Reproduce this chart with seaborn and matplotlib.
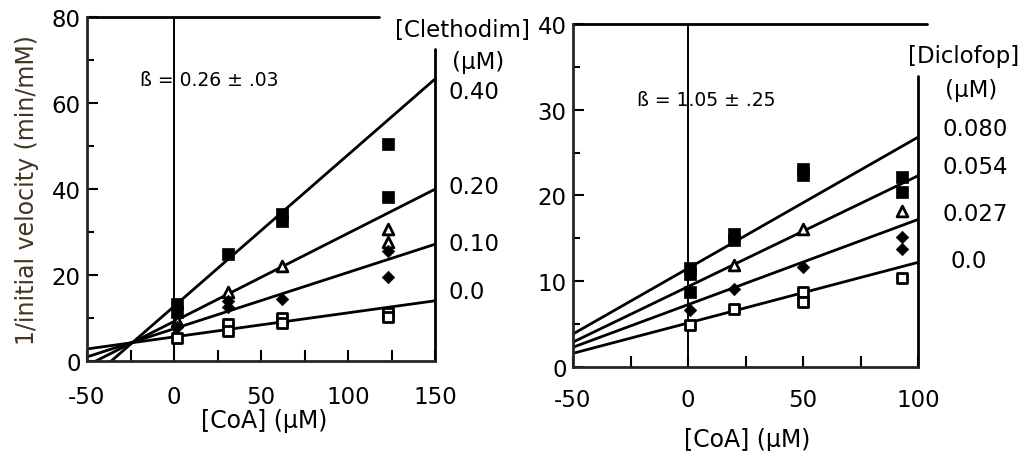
import matplotlib
matplotlib.use('Agg')
import matplotlib.pyplot as plt
import numpy as np
import seaborn as sns

sns.set_style('white')
plt.rcParams['font.family'] = ['DejaVu Sans']
plt.rcParams['axes.linewidth'] = 2
plt.rcParams['text.color'] = 'black'
plt.rcParams['axes.labelcolor'] = 'black'

W, H = 1026, 452

# ---- Clethodim panel (left) ----
cleth_conc = ['0.40', '0.20', '0.10', '0.0']
cleth_intercept = [12.7, 9.2, 7.5, 5.6]
cleth_slope = [0.3525, 0.205, 0.131, 0.056]
cleth_coa = [2, 2, 31, 62, 62, 123, 123,
             2, 31, 62, 123, 123,
             2, 31, 31, 62, 123, 123,
             2, 31, 31, 62, 62, 123, 123]
cleth_rate = [13.2, 11.4, 24.9, 34.3, 32.6, 50.5, 38.1,
              9.3, 16.0, 22.0, 30.8, 27.6,
              7.9, 14.0, 12.5, 14.5, 25.6, 19.5,
              5.3, 8.6, 7.0, 10.0, 8.8, 11.2, 10.2]
cleth_series = (['0.40'] * 7 + ['0.20'] * 5 + ['0.10'] * 6 + ['0.0'] * 7)
cleth_xticks = [-50, 0, 50, 100, 150]
cleth_xticklabels = ['-50', '0', '50', '100', '150']
cleth_yticks = [0, 20, 40, 60, 80]

# ---- Diclofop panel (right) ----
diclo_conc = ['0.080', '0.054', '0.027', '0.0']
diclo_intercept = [11.5, 9.37, 7.27, 5.13]
diclo_slope = [0.153, 0.1293, 0.0993, 0.0707]
diclo_coa = [1, 1, 1, 20, 20, 50, 50, 93, 93,
             20, 50, 93,
             1, 20, 50, 93, 93,
             1, 20, 50, 50, 93]
diclo_rate = [11.5, 10.8, 8.8, 15.5, 14.8, 23.1, 22.4, 22.1, 20.4,
              11.9, 16.1, 18.2,
              6.6, 9.1, 11.7, 15.2, 13.8,
              4.9, 6.8, 8.7, 7.6, 10.4]
diclo_series = (['0.080'] * 9 + ['0.054'] * 3 + ['0.027'] * 5 + ['0.0'] * 5)
diclo_xticks = [-50, 0, 50, 100]
diclo_xticklabels = ['-50', '0', '50', '100']
diclo_yticks = [0, 10, 20, 30, 40]

# marker per concentration rank (highest -> lowest)
marker_style = [
    dict(marker='s', s=80, color='black', linewidth=0.5),
    dict(marker='^', s=60, color='white', linewidth=2),
    dict(marker='D', s=40, color='black', linewidth=0.5),
    dict(marker='s', s=60, color='white', linewidth=2),
]


def draw_panel(ax, conc, intercept, slope, coa, rate, series, xlim, ylim):
    coa = np.array(coa)
    rate = np.array(rate)
    series = np.array(series)
    x_fit = np.array(xlim, dtype=float)
    for i, c in enumerate(conc):
        sns.lineplot(x=x_fit, y=intercept[i] + slope[i] * x_fit, ax=ax,
                     color='black', lw=2)
    ax.axvline(0, color='black', lw=1.4)
    for i, c in enumerate(conc):
        m = series == c
        st = marker_style[i]
        sns.scatterplot(x=coa[m], y=rate[m], ax=ax, marker=st['marker'],
                        s=st['s'], color=st['color'], edgecolor='black',
                        linewidth=st['linewidth'], zorder=5)
    ax.set_xlim(xlim)
    ax.set_ylim(ylim)


fig = plt.figure(figsize=(W / 100, H / 100), dpi=100)

ax1 = fig.add_axes([87 / W, 1 - 362 / H, 348 / W, 344 / H])
draw_panel(ax1, cleth_conc, cleth_intercept, cleth_slope, cleth_coa,
           cleth_rate, cleth_series, (-50, 150), (0, 80))
ax1.set_xticks(cleth_xticks)
ax1.set_xticklabels(cleth_xticklabels)
ax1.set_xticks([-25, 25, 75, 125], minor=True)
ax1.set_yticks(cleth_yticks)
ax1.set_yticks([10, 30, 50, 70], minor=True)

ax2 = fig.add_axes([573 / W, 1 - 368 / H, 345 / W, 343 / H])
draw_panel(ax2, diclo_conc, diclo_intercept, diclo_slope, diclo_coa,
           diclo_rate, diclo_series, (-50, 100), (0, 40))
ax2.set_xticks(diclo_xticks)
ax2.set_xticklabels(diclo_xticklabels)
ax2.set_xticks([-25, 25, 75], minor=True)
ax2.set_yticks(diclo_yticks)
ax2.set_yticks([5, 15, 25, 35], minor=True)

# open frame: partial top and right borders
for ax, top_end, right_top in [(ax1, 0.84, 0.907), (ax2, 1.026, 0.848)]:
    ax.spines['top'].set_visible(False)
    ax.spines['right'].set_visible(False)
    ax.plot([0, top_end], [1, 1], transform=ax.transAxes, clip_on=False,
            color='black', lw=2)
    ax.plot([1, 1], [0, right_top], transform=ax.transAxes, clip_on=False,
            color='black', lw=2)
    ax.tick_params(axis='both', which='both', direction='in', width=1.5,
                   colors='black', labelsize=16.5, bottom=True, left=True,
                   top=False, right=False)
    ax.tick_params(axis='both', which='major', length=8)
    ax.tick_params(axis='both', which='minor', length=5)
    ax.tick_params(axis='x', which='minor', length=8)
    ax.tick_params(axis='y', pad=4.5)
    ax.set_xlabel('[CoA] (µM)', fontsize=17, va='center', color='black')

ax1.tick_params(axis='x', pad=17)
ax2.tick_params(axis='x', pad=15)
ax1.xaxis.set_label_coords(0.51, -0.1715)
ax2.xaxis.set_label_coords(0.504, -0.21)
ax2.set_ylabel('')

ax1.set_ylabel('1/initial velocity (min/mM)', fontsize=17, color='#40351f',
               va='center', ha='center')
ax1.yaxis.set_label_coords(-0.172, 0.5)

# concentration labels to the right of each panel
right_labels = [
    ('[Clethodim]', 395, 30), ('(µM)', 452, 62), ('0.40', 449, 93),
    ('0.20', 449, 188), ('0.10', 449, 245), ('0.0', 449, 293),
    ('[Diclofop]', 908, 56), ('(µM)', 945, 91), ('0.080', 943, 130),
    ('0.054', 943, 168), ('0.027', 943, 215), ('0.0', 950, 262),
]
for s, x, y in right_labels:
    fig.text(x / W, 1 - y / H, s, fontsize=16.5, ha='left', va='center')

fig.text(140 / W, 1 - 80 / H, 'ß = 0.26 ± .03', fontsize=13.5,
         ha='left', va='center')
fig.text(637 / W, 1 - 100 / H, 'ß = 1.05 ± .25', fontsize=13.5,
         ha='left', va='center')

fig.savefig('out.png', dpi=100, facecolor='white')
